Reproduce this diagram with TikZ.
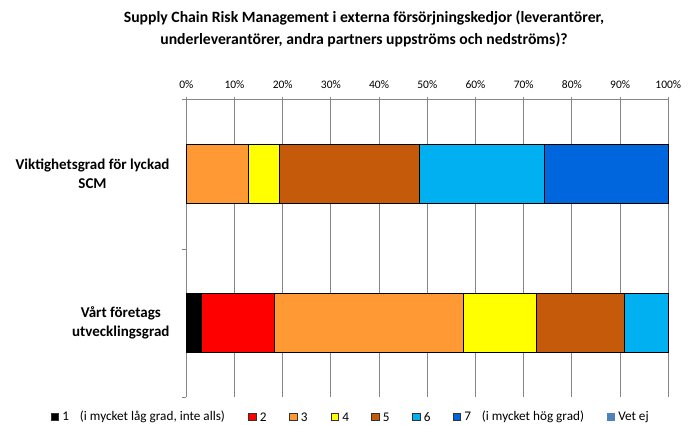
\documentclass[tikz,border=0pt]{standalone}
\usepackage{fontspec}
\setmainfont{Carlito}
\usepackage{tikz}
\usetikzlibrary{positioning}

\definecolor{axisgray}{RGB}{134,134,134}
\definecolor{lvlone}{RGB}{0,0,0}
\definecolor{lvltwo}{RGB}{255,0,0}
\definecolor{lvlthree}{RGB}{255,153,51}
\definecolor{lvlfour}{RGB}{255,255,0}
\definecolor{lvlfive}{RGB}{197,90,10}
\definecolor{lvlsix}{RGB}{0,176,240}
\definecolor{lvlseven}{RGB}{0,102,221}
\definecolor{vetej}{RGB}{79,129,189}

\begin{document}
\begin{tikzpicture}[x=1pt,y=-1pt,
    gridline/.style={draw=axisgray,line width=0.9pt},
    segment/.style={draw=black,line width=0.8pt},
    catlabel/.style={font=\bfseries\fontsize{15}{19}\selectfont,align=center,anchor=east},
    ticklabel/.style={font=\fontsize{11.5}{13}\selectfont},
    keybox/.style={draw=black!80,line width=0.6pt,minimum size=7.5pt,inner sep=0pt},
    keytext/.style={font=\fontsize{13.2}{15}\selectfont,inner sep=0pt}]
    \useasboundingbox (0,0) rectangle (695,424);
    % title
    \node[font=\bfseries\fontsize{15.7}{22}\selectfont,align=center] (title) at (364,29)
      {Supply Chain Risk Management i externa försörjningskedjor (leverantörer,\\underleverantörer, andra partners uppströms och nedströms)?};
    % axes and grid
    \foreach \p in {0,10,...,100} {
      \draw[gridline] ({186.3+4.82*\p},96.5) -- ({186.3+4.82*\p},397.3);
      \node[ticklabel] (t\p) at ({186.3+4.82*\p},85) {\p\%};
    }
    \draw[gridline] (181.5,99.3) -- (668.3,99.3);
    \draw[gridline] (181.5,249.3) -- (186.3,249.3);
    \draw[gridline] (181.5,397.3) -- (186.3,397.3);
    % bar 1
    \foreach \a/\b/\c in {0/12.9/lvlthree,12.9/19.35/lvlfour,19.35/48.39/lvlfive,48.39/74.19/lvlsix,74.19/100/lvlseven}
      \filldraw[segment,fill=\c] ({186.3+4.82*\a},144.3) rectangle ({186.3+4.82*\b},203);
    % bar 2
    \foreach \a/\b/\c in {0/3.03/lvlone,3.03/18.18/lvltwo,18.18/57.58/lvlthree,57.58/72.73/lvlfour,72.73/90.91/lvlfive,90.91/100/lvlsix}
      \filldraw[segment,fill=\c] ({186.3+4.82*\a},293.3) rectangle ({186.3+4.82*\b},352);
    % categories
    \node[catlabel] (viktig) at (173,174) {Viktighetsgrad för lyckad\\SCM};
    \node[catlabel] (utveckl) at (173,323) {Vårt företags\\utvecklingsgrad};
    % legend
    \node[keybox,fill=lvlone] (k1) at (55,417) {};
    \node[keytext,right=3pt of k1] (l1) {1\hspace{11pt}(i mycket låg grad, inte alls)};
    \node[keybox,fill=lvltwo] (k2) at (252.5,417) {};
    \node[keytext,right=3pt of k2] (l2) {2};
    \node[keybox,fill=lvlthree] (k3) at (293.5,417) {};
    \node[keytext,right=3pt of k3] (l3) {3};
    \node[keybox,fill=lvlfour] (k4) at (335,417) {};
    \node[keytext,right=3pt of k4] (l4) {4};
    \node[keybox,fill=lvlfive] (k5) at (375.5,417) {};
    \node[keytext,right=3pt of k5] (l5) {5};
    \node[keybox,fill=lvlsix] (k6) at (416.5,417) {};
    \node[keytext,right=3pt of k6] (l6) {6};
    \node[keybox,fill=lvlseven] (k7) at (457,417) {};
    \node[keytext,right=3pt of k7] (l7) {7\hspace{11pt}(i mycket hög grad)};
    \node[keybox,draw=none,fill=vetej] (k8) at (611,417) {};
    \node[keytext,right=3pt of k8] (l8) {Vet ej};
\end{tikzpicture}
\end{document}
